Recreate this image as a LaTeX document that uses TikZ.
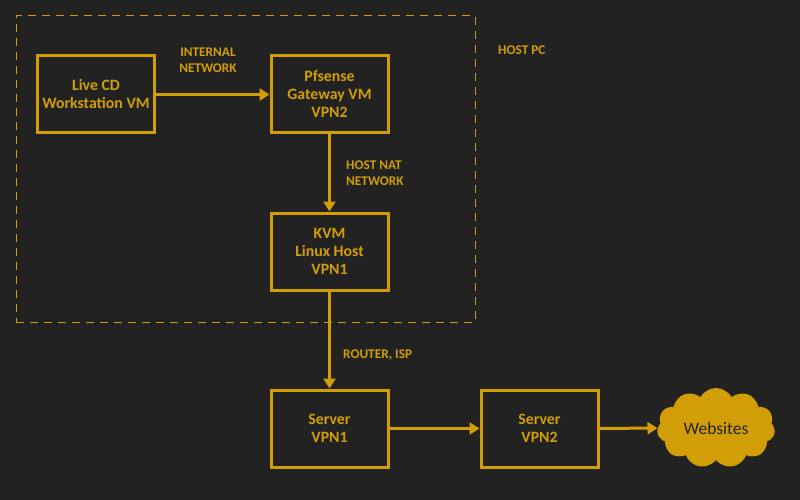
\documentclass[tikz,border=0pt]{standalone}
\usepackage{fontspec}
\setmainfont{Carlito}
\usetikzlibrary{arrows.meta,shapes.symbols}
\definecolor{bg}{HTML}{222222}
\definecolor{gold}{RGB}{210,158,8}
\begin{document}
\begin{tikzpicture}[x=1pt,y=-1pt,
  box/.style={draw=gold,line width=3pt,minimum width=117pt,minimum height=77pt,inner sep=0pt,align=center,text=gold,font=\fontsize{15.8}{18}\selectfont\bfseries},
  lbl/.style={text=gold,align=left,font=\fontsize{13.3}{16}\selectfont\bfseries,inner sep=0pt},
  conn/.style={draw=gold,line width=3pt,-{Triangle[length=10pt,width=12pt]}}]
\fill[bg] (0,0) rectangle (800,500);
\useasboundingbox (0,0) rectangle (800,500);
\node[draw=gold,line width=1pt,dash pattern=on 8pt off 6pt,minimum width=459pt,minimum height=306pt,inner sep=0pt] (host) at (245.5,169) {};
\node[lbl,anchor=west] (hostlbl) at (498,50) {HOST PC};
\node[box] (live) at (96,94.5) {Live CD\\Workstation VM};
\node[box] (pf) at (329.5,94.5) {Pfsense\\Gateway VM\\VPN2};
\node[box] (kvm) at (329.5,251.5) {KVM\\Linux Host\\VPN1};
\node[box] (s1) at (329.5,428.5) {Server\\VPN1};
\node[box] (s2) at (539.5,428.5) {Server\\VPN2};
\node[cloud,cloud puffs=11,cloud puff arc=120,aspect=1.5,fill=gold,minimum width=118pt,minimum height=80pt,inner sep=0pt,font=\fontsize{17.5}{20}\selectfont,text=bg] (web) at (716,428) {Websites};
\draw[conn] (live) -- (pf);
\draw[conn] (pf) -- (kvm);
\draw[conn] (kvm) -- (s1);
\draw[conn] (s1) -- (s2);
\draw[conn] (s2) -- (web);
\node[lbl,align=center] (inl) at (208,60) {INTERNAL\\NETWORK};
\node[lbl,anchor=west] (natl) at (346,173) {HOST NAT\\NETWORK};
\node[lbl,anchor=west] (isp) at (343,355) {ROUTER, ISP};
\end{tikzpicture}
\end{document}
